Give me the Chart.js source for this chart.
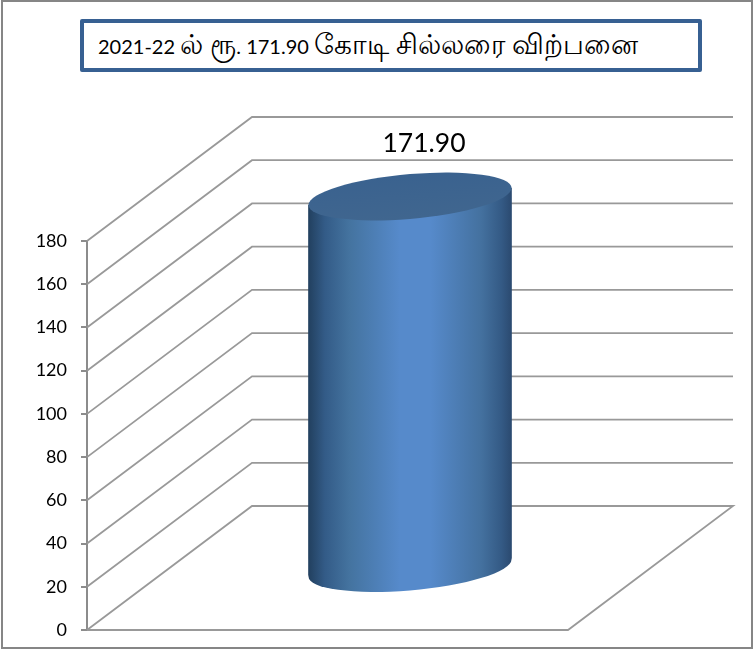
<!DOCTYPE html>
<html lang="ta">
<head>
<meta charset="utf-8">
<title>சில்லரை விற்பனை</title>
<script src="https://cdn.jsdelivr.net/npm/chart.js@4"></script>
<style>
    html, body { margin: 0; padding: 0; background: #fff; }
    #page { position: relative; width: 753px; height: 649px; overflow: hidden; }
    #myChart { position: absolute; left: 0; top: 0; }
    #cadre { position: absolute; left: 1px; top: 0; width: 748px; height: 645px; border: 2px solid #868686; border-right-width: 3px; }
    #titre {
        position: absolute; left: 80px; top: 19px; width: 600px; height: 45px;
        border: 4px solid #376092; border-radius: 2px; background: #fff;
        padding-left: 14px; white-space: nowrap;
        font: 20px/45px Lato, "Noto Sans", sans-serif; color: #000;
    }
    #titre span { font-size: 28px; line-height: 40px; }
</style>
</head>
<body>
<div id="page">
    <canvas id="myChart" width="753" height="649"></canvas>
    <div id="cadre"></div>
    <div id="titre">2021-22 <span>ல் ரூ</span>. 171.90 <span>கோடி சில்லரை விற்பனை</span></div>
</div>
<script>
const annees = ["2021-22"];
const ventes = [171.90];
const graduations = [0, 20, 40, 60, 80, 100, 120, 140, 160, 180];

const COULEUR_AXE = "#8c8c8c";
const COULEUR_GRILLE = "#999999";
const PROFONDEUR_X = 165;
const PROFONDEUR_Y = 124;
const DEMI_LARGEUR = 101.5;
const DEMI_HAUTEUR = 22.4;
const PENTE = 8.5 / 101.5;

// degradé horizontal du cylindre
function degradeCylindre(chart, centre) {
    const g = chart.ctx.createLinearGradient(centre - DEMI_LARGEUR, 0, centre + DEMI_LARGEUR, 0);
    g.addColorStop(0, "#22405f");
    g.addColorStop(0.08, "#335b87");
    g.addColorStop(0.2, "#44739f");
    g.addColorStop(0.45, "#568acb");
    g.addColorStop(0.6, "#568acb");
    g.addColorStop(0.85, "#44719f");
    g.addColorStop(0.95, "#345a85");
    g.addColorStop(1, "#2b4a70");
    return g;
}

// place le repere au milieu du sol et penche le cylindre
function repereCylindre(ctx, x) {
    ctx.translate(PROFONDEUR_X / 2, -PROFONDEUR_Y / 2);
    ctx.translate(x, 0);
    ctx.transform(1, -PENTE, 0, 1, 0, 0);
    ctx.translate(-x, 0);
}

const murs3d = {
    id: "murs3d",
    beforeDatasetsDraw(chart) {
        const { ctx, scales } = chart;
        const droite = scales.x.right;
        const gauche = scales.x.left;
        ctx.save();
        ctx.strokeStyle = COULEUR_GRILLE;
        ctx.lineWidth = 1.8;
        graduations.forEach(v => {
            const y = scales.y.getPixelForValue(v);
            ctx.beginPath();
            ctx.moveTo(gauche, y);
            ctx.lineTo(gauche + PROFONDEUR_X, y - PROFONDEUR_Y);
            ctx.lineTo(droite + PROFONDEUR_X, y - PROFONDEUR_Y);
            if (v === 0) {
                ctx.lineTo(droite, y);
                ctx.lineTo(gauche, y);
            }
            ctx.stroke();
        });
        ctx.restore();
    },
    beforeDatasetDraw(chart) {
        const { ctx, scales } = chart;
        const barre = chart.getDatasetMeta(0).data[0];
        const base = scales.y.getPixelForValue(0);
        ctx.save();
        repereCylindre(ctx, barre.x);
        ctx.fillStyle = degradeCylindre(chart, barre.x);
        ctx.beginPath();
        ctx.ellipse(barre.x, base, DEMI_LARGEUR, DEMI_HAUTEUR, 0, 0, Math.PI * 2);
        ctx.fill();
    },
    afterDatasetDraw(chart) {
        const { ctx } = chart;
        const barre = chart.getDatasetMeta(0).data[0];
        const g = ctx.createLinearGradient(barre.x, barre.y - DEMI_HAUTEUR, barre.x, barre.y + DEMI_HAUTEUR);
        g.addColorStop(0, "#3a628f");
        g.addColorStop(1, "#40668f");
        ctx.fillStyle = g;
        ctx.beginPath();
        ctx.ellipse(barre.x, barre.y, DEMI_LARGEUR, DEMI_HAUTEUR, 0, 0, Math.PI * 2);
        ctx.fill();
        ctx.restore();

        // etiquette de valeur
        ctx.save();
        ctx.font = "26.5px Lato, sans-serif";
        ctx.fillStyle = "#000";
        ctx.textAlign = "center";
        ctx.textBaseline = "middle";
        ctx.fillText(ventes[0].toFixed(2), barre.x + PROFONDEUR_X / 2 + 14, barre.y - PROFONDEUR_Y / 2 - 53);
        ctx.restore();
    }
};

new Chart(document.getElementById("myChart"), {
    type: "bar",
    data: {
        labels: annees,
        datasets: [
            {
                data: ventes,
                barThickness: DEMI_LARGEUR * 2,
                backgroundColor: ctx => ctx.chart.chartArea
                    ? degradeCylindre(ctx.chart, (ctx.chart.chartArea.left + ctx.chart.chartArea.right) / 2)
                    : "#4f81bd",
                borderWidth: 0
            }
        ]
    },
    options: {
        responsive: false,
        animation: false,
        layout: { padding: { left: 0, right: 185, top: 241, bottom: 19 } },
        plugins: {
            legend: { display: false },
            title: { display: false },
            tooltip: { enabled: false }
        },
        scales: {
            x: { display: false },
            y: {
                min: 0,
                max: 180,
                afterFit(scale) { scale.width = 87; scale.paddingBottom = 0; scale.paddingTop = 0; },
                afterBuildTicks(scale) { scale.ticks = graduations.map(v => ({ value: v })); },
                ticks: {
                    color: "#000",
                    padding: 14,
                    font: { family: "Lato, sans-serif", size: 18 }
                },
                grid: { drawOnChartArea: false, drawTicks: true, tickLength: 6, color: COULEUR_AXE, lineWidth: 2 },
                border: { color: COULEUR_AXE, width: 2 }
            }
        }
    },
    plugins: [murs3d]
});
</script>
</body>
</html>
